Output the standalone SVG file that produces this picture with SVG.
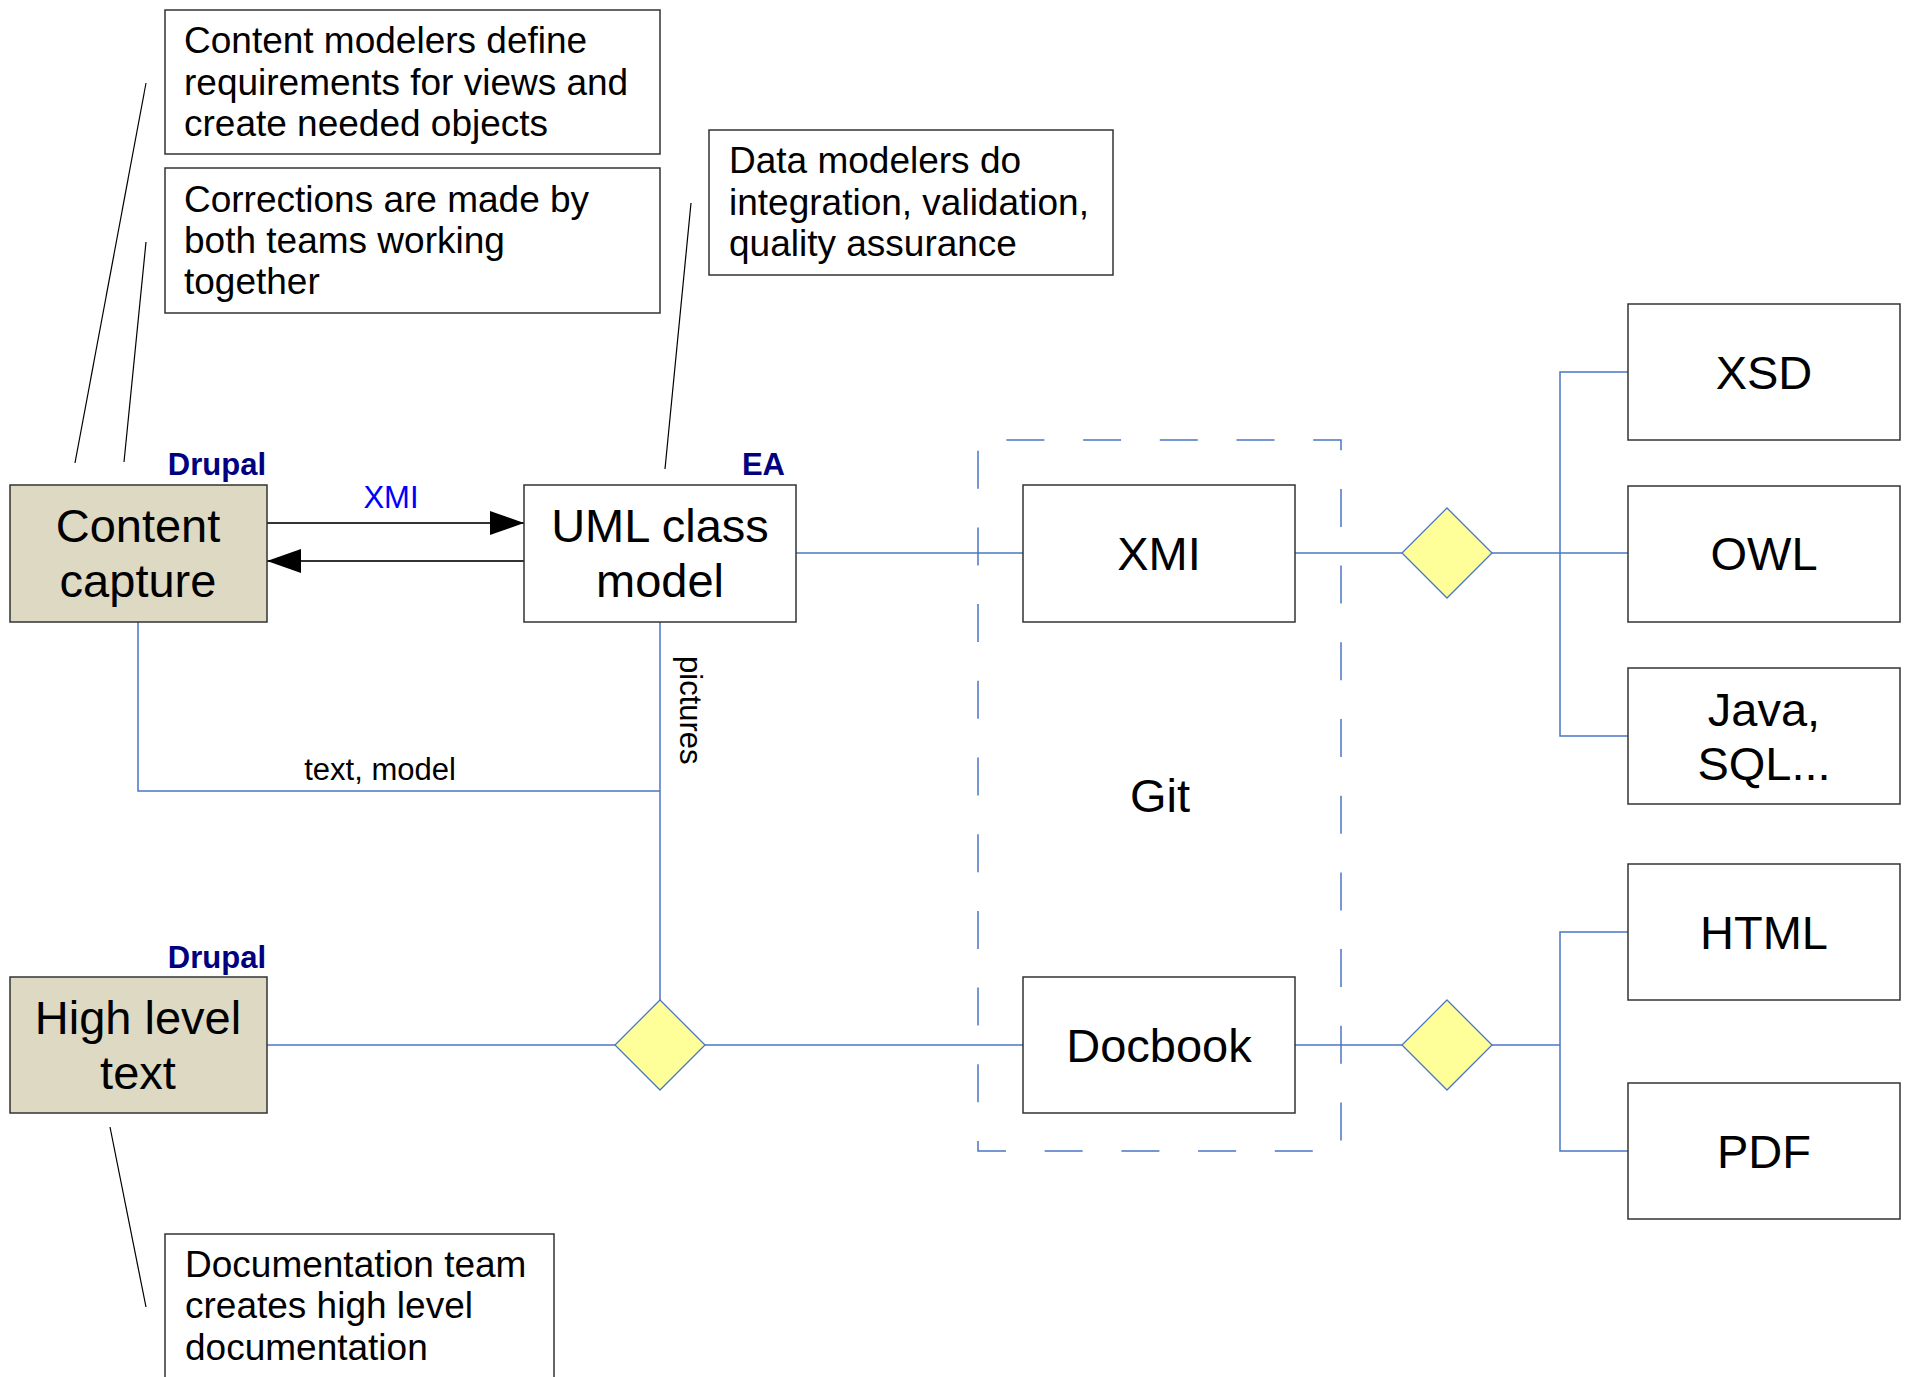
<svg xmlns="http://www.w3.org/2000/svg" width="1912" height="1377" viewBox="0 0 1912 1377">
<defs>
<style>
text{font-family:"Liberation Sans",Arial,sans-serif;fill:#000}
.box{fill:#fff;stroke:#333;stroke-width:1.5}
.tan{fill:#ddd9c3;stroke:#333;stroke-width:1.5}
.note{font-size:37px}
.big{font-size:47px;text-anchor:middle}
.lbl{font-size:31px;font-weight:bold;fill:#000080;text-anchor:end}
.conn{stroke:#4a76c4;stroke-width:1.5;fill:none}
.lead{stroke:#000;stroke-width:1.2;fill:none}
.arr{stroke:#333;stroke-width:2;fill:none}
.dia{fill:#ffff99;stroke:#4a76c4;stroke-width:1.3}
.small{font-size:31px}
</style>
<marker id="ah" markerUnits="userSpaceOnUse" markerWidth="34" markerHeight="24" refX="34" refY="12" orient="auto">
<path d="M0,0 L34,12 L0,24 Z" fill="#000"/>
</marker>
</defs>
<rect width="1912" height="1377" fill="#fff"/>

<g id="connectors">
<path class="lead" d="M75,463 L146,83"/>
<path class="lead" d="M124,462 L146,242"/>
<path class="lead" d="M665,469 L691,203"/>
<path class="lead" d="M110,1127 L146,1307"/>
<path class="arr" d="M267,523 L524,523" marker-end="url(#ah)"/>
<path class="arr" d="M524,561 L267,561" marker-end="url(#ah)"/>
<text x="391" y="508" class="small" fill="#0000ff" style="fill:#0000ff;text-anchor:middle">XMI</text>
<path class="conn" d="M796,553 L1023,553"/>
<path class="conn" d="M138,622 L138,791 L660,791"/>
<text x="380" y="780" class="small" style="text-anchor:middle">text, model</text>
<path class="conn" d="M660,622 L660,1000"/>
<text transform="translate(680,656) rotate(90)" class="small">pictures</text>
<path class="conn" d="M267,1045 L615,1045"/>
<path class="conn" d="M705,1045 L1023,1045"/>
<path class="conn" d="M1295,553 L1402,553"/>
<path class="conn" d="M1492,553 L1628,553"/>
<path class="conn" d="M1628,372 L1560,372 L1560,736 L1628,736"/>
<path class="conn" d="M1295,1045 L1402,1045"/>
<path class="conn" d="M1492,1045 L1560,1045"/>
<path class="conn" d="M1628,932 L1560,932 L1560,1151 L1628,1151"/>
</g>

<g id="git">
<path d="M978,440 V1151 H1341 V440 Z" fill="none" stroke="#4a76c4" stroke-width="1.5" stroke-dasharray="38 38.7" stroke-dashoffset="66"/>
<text x="1160" y="812" class="big">Git</text>
</g>

<g id="note-content-modelers">
<rect class="box" x="165" y="10" width="495" height="144"/>
<text class="note" x="184" y="53">Content modelers define</text>
<text class="note" x="184" y="95">requirements for views and</text>
<text class="note" x="184" y="136">create needed objects</text>
</g>

<g id="note-corrections">
<rect class="box" x="165" y="168" width="495" height="145"/>
<text class="note" x="184" y="212">Corrections are made by</text>
<text class="note" x="184" y="253">both teams working</text>
<text class="note" x="184" y="294">together</text>
</g>

<g id="note-data-modelers">
<rect class="box" x="709" y="130" width="404" height="145"/>
<text class="note" x="729" y="173">Data modelers do</text>
<text class="note" x="729" y="215">integration, validation,</text>
<text class="note" x="729" y="256">quality assurance</text>
</g>

<g id="note-documentation">
<rect class="box" x="165" y="1234" width="389" height="170"/>
<text class="note" x="185" y="1277">Documentation team</text>
<text class="note" x="185" y="1318">creates high level</text>
<text class="note" x="185" y="1360">documentation</text>
</g>

<g id="content-capture">
<rect class="tan" x="10" y="485" width="257" height="137"/>
<text class="big" x="138" y="542">Content</text>
<text class="big" x="138" y="597">capture</text>
<text class="lbl" x="266" y="475">Drupal</text>
</g>

<g id="uml-class-model">
<rect class="box" x="524" y="485" width="272" height="137"/>
<text class="big" x="660" y="542">UML class</text>
<text class="big" x="660" y="597">model</text>
<text class="lbl" x="785" y="475">EA</text>
</g>

<g id="high-level-text">
<rect class="tan" x="10" y="977" width="257" height="136"/>
<text class="big" x="138" y="1034">High level</text>
<text class="big" x="138" y="1089">text</text>
<text class="lbl" x="266" y="968">Drupal</text>
</g>

<g id="merge-diamond">
<path class="dia" d="M660,1000 L705,1045 L660,1090 L615,1045 Z"/>
</g>

<g id="xmi">
<rect class="box" x="1023" y="485" width="272" height="137"/>
<text class="big" x="1159" y="570">XMI</text>
</g>

<g id="docbook">
<rect class="box" x="1023" y="977" width="272" height="136"/>
<text class="big" x="1159" y="1062">Docbook</text>
</g>

<g id="xmi-diamond">
<path class="dia" d="M1447,508 L1492,553 L1447,598 L1402,553 Z"/>
</g>

<g id="docbook-diamond">
<path class="dia" d="M1447,1000 L1492,1045 L1447,1090 L1402,1045 Z"/>
</g>

<g id="xsd">
<rect class="box" x="1628" y="304" width="272" height="136"/>
<text class="big" x="1764" y="389">XSD</text>
</g>

<g id="owl">
<rect class="box" x="1628" y="486" width="272" height="136"/>
<text class="big" x="1764" y="570">OWL</text>
</g>

<g id="java-sql">
<rect class="box" x="1628" y="668" width="272" height="136"/>
<text class="big" x="1764" y="726">Java,</text>
<text class="big" x="1764" y="780">SQL...</text>
</g>

<g id="html">
<rect class="box" x="1628" y="864" width="272" height="136"/>
<text class="big" x="1764" y="949">HTML</text>
</g>

<g id="pdf">
<rect class="box" x="1628" y="1083" width="272" height="136"/>
<text class="big" x="1764" y="1168">PDF</text>
</g>
</svg>
